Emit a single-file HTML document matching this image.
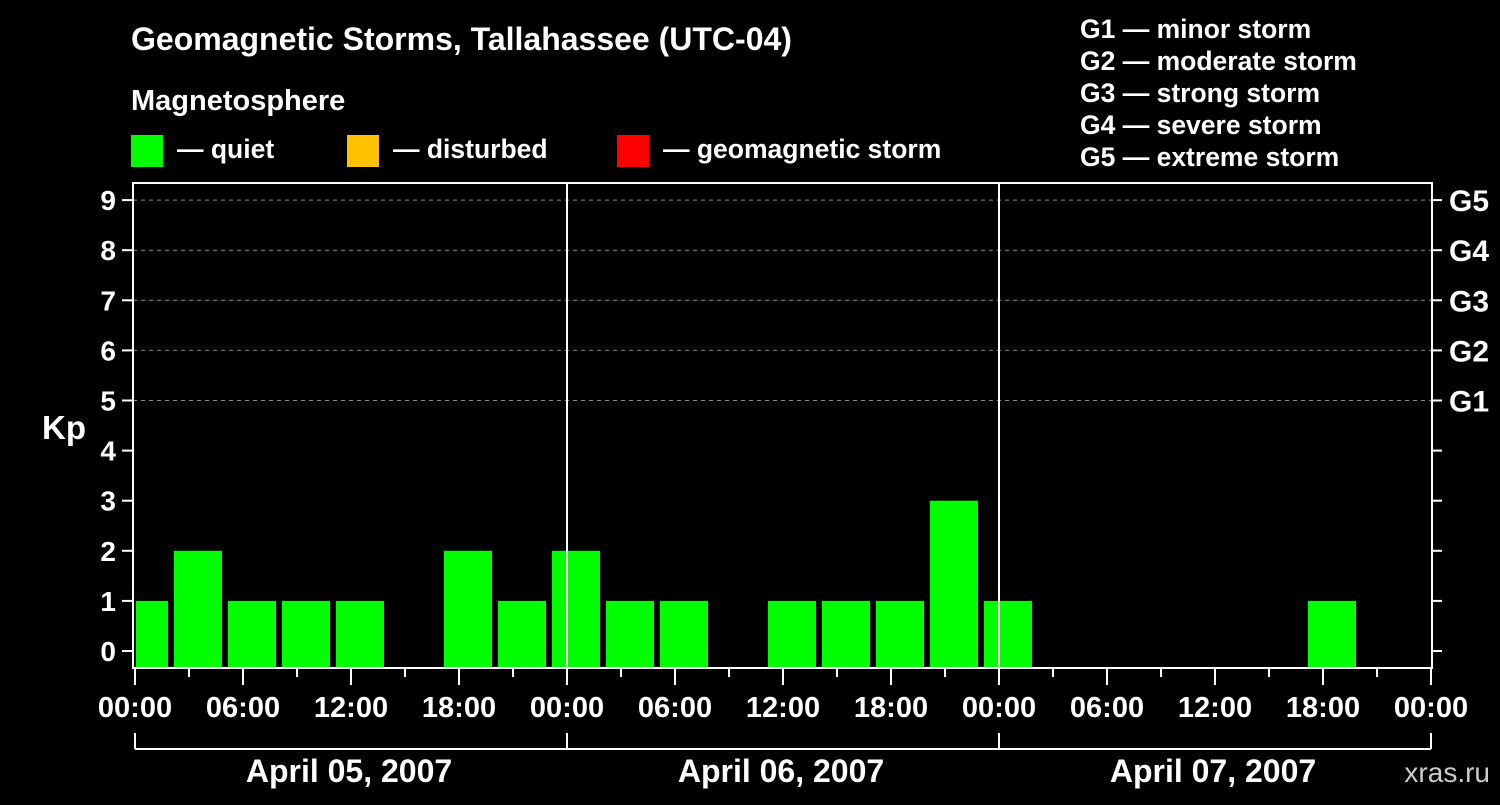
<!DOCTYPE html>
<html><head><meta charset="utf-8"><style>
body{margin:0;background:#000;}
svg text{font-family:"Liberation Sans",sans-serif;font-weight:bold;fill:#fff;}
</style></head><body>
<svg width="1500" height="800" viewBox="0 0 1500 800" xmlns="http://www.w3.org/2000/svg">
<rect width="1500" height="800" fill="#000"/>
<text x="131" y="50" font-size="32">Geomagnetic Storms, Tallahassee (UTC-04)</text>
<text x="131" y="110" font-size="29">Magnetosphere</text>
<g><rect x="131" y="135" width="32" height="32" fill="#00ff00"/><text x="177" y="158" font-size="26.5">— quiet</text></g>
<g><rect x="347" y="135" width="32" height="32" fill="#ffc000"/><text x="393" y="158" font-size="26.5">— disturbed</text></g>
<g><rect x="617" y="135" width="32" height="32" fill="#ff0000"/><text x="663" y="158" font-size="26.5">— geomagnetic storm</text></g>
<g font-size="26.5">
<text x="1080" y="38">G1 — minor storm</text>
<text x="1080" y="70">G2 — moderate storm</text>
<text x="1080" y="102">G3 — strong storm</text>
<text x="1080" y="134">G4 — severe storm</text>
<text x="1080" y="166">G5 — extreme storm</text>
</g>
<text x="42" y="439" font-size="33">Kp</text>
<text x="1490" y="782" font-size="28" text-anchor="end" fill="#ccc" style="font-weight:normal;fill:#ccc">xras.ru</text>
<g id="grid"></g><g id="bars"></g><g id="axes"></g>
</svg>
<script>
const kpValues=[1,2,1,1,1,0,2,1, 2,1,1,0,1,1,1,3, 1,0,0,0,0,0,1,0];
const yTicks=[0,1,2,3,4,5,6,7,8,9];
const gLabels=["","","","","","G1","G2","G3","G4","G5"];
const xTickLabels=["00:00","06:00","12:00","18:00","00:00","06:00","12:00","18:00","00:00","06:00","12:00","18:00","00:00"];
const dayLabels=["April 05, 2007","April 06, 2007","April 07, 2007"];
const NS="http://www.w3.org/2000/svg";
const L=133,R=1432,T=183,B=668;
const y=v=>651-v*50.1;
const x=h=>L+2+h*18; // hours
function mk(t,a,p){const e=document.createElementNS(NS,t);for(const k in a)e.setAttribute(k,a[k]);p.appendChild(e);return e;}
const grid=document.getElementById('grid'),bars=document.getElementById('bars'),axes=document.getElementById('axes');
yTicks.forEach((v,i)=>{
 if(v>=5){const g=mk('line',{x1:L,x2:R,y1:y(v),y2:y(v),stroke:'#888','stroke-dasharray':'4,4'},grid);
 
 }
 const t=mk('line',{x1:122,x2:L,y1:y(v),y2:y(v),stroke:'#fff','stroke-width':2},axes);
 
 
 const t2=mk('line',{x1:R,x2:R+10,y1:y(v),y2:y(v),stroke:'#fff','stroke-width':2},axes);
 
 
 const lb=mk('text',{x:116,y:y(v)+10,'font-size':28,'text-anchor':'end'},axes);lb.textContent=v;
 
 
 if(gLabels[i]){const g=mk('text',{x:1449,y:y(v)+11,'font-size':30},axes);g.textContent=gLabels[i];
 
 }
});
kpValues.forEach((v,i)=>{
 if(v<=0)return;
 let x0=x(i*3)-15,x1=x0+48; if(x0<L+3)x0=L+3;
 const c=v>=5?'#ff0000':(v>=4?'#ffc000':'#00ff00');
 const r=mk('rect',{x:x0,y:y(v),width:x1-x0,height:B-1-y(v),fill:c},bars);
 
 
});
mk('rect',{x:L,y:T,width:R-L,height:B-T,fill:'none',stroke:'#fff','stroke-width':2},axes);
[1,2].forEach(d=>{const l=mk('line',{x1:x(d*24),x2:x(d*24),y1:T,y2:B,stroke:'#fff','stroke-width':2},axes);
 
 });
for(let i=0;i<=24;i++){
 const maj=i%2===0;
 const tk=mk('line',{x1:x(i*3),x2:x(i*3),y1:B,y2:maj?685:677,stroke:'#fff','stroke-width':2},axes);
 
 
 if(maj){const t=mk('text',{x:x(i*3),y:717,'font-size':29,'text-anchor':'middle'},axes);t.textContent=xTickLabels[i/2];
 
 }
}
const br=mk('line',{x1:x(0),x2:x(72),y1:749,y2:749,stroke:'#fff','stroke-width':2},axes);


for(let d=0;d<=3;d++){const l=mk('line',{x1:x(d*24),x2:x(d*24),y1:733,y2:749,stroke:'#fff','stroke-width':2},axes);
 
 }
dayLabels.forEach((s,d)=>{const t=mk('text',{x:x(d*24+12)-2,y:782,'font-size':32,'text-anchor':'middle'},axes);t.textContent=s;
 
 });
</script>
</body></html>
